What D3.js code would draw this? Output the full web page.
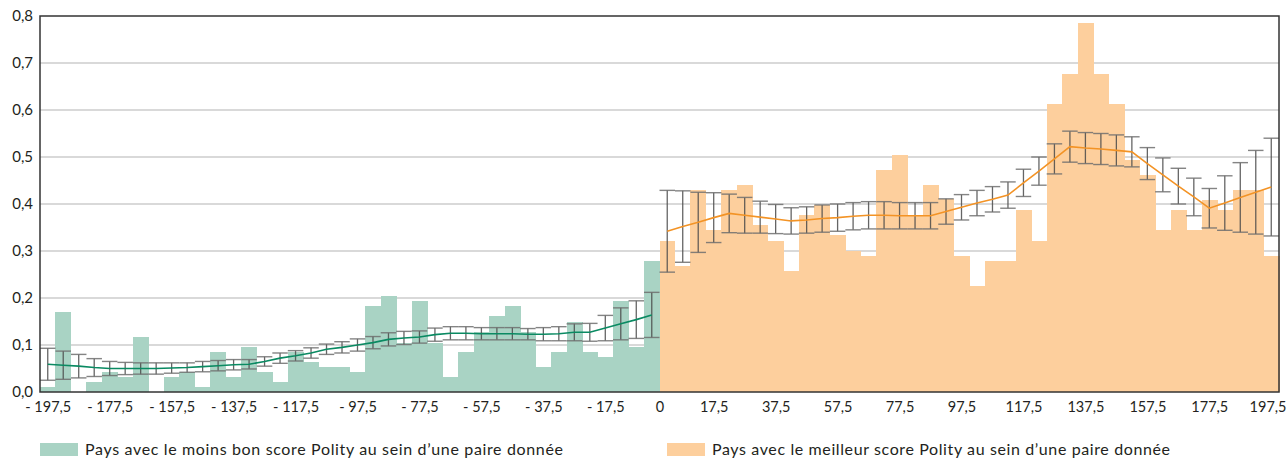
<!DOCTYPE html>
<html>
<head>
<meta charset="utf-8">
<script src="https://cdn.jsdelivr.net/npm/d3@7"></script>
<style>
  body { margin: 0; background: #fff; }
  text { font-family: Lato, "Open Sans", sans-serif; fill: #231f20; }
</style>
</head>
<body>
<svg id="chart" width="1288" height="458"></svg>
<script>
// Bin centres (width 5) on each side of zero
const binsLess = d3.range(-197.5, 0, 5);
const binsBetter = d3.range(2.5, 200, 5);

// Share of observations per bin
const lessShare = [0.010, 0.170, 0, 0.021, 0.043, 0.032, 0.117, 0, 0.032, 0.043,
  0.011, 0.085, 0.032, 0.096, 0.043, 0.021, 0.085, 0.064, 0.053, 0.053,
  0.043, 0.183, 0.204, 0.105, 0.194, 0.105, 0.032, 0.085, 0.128, 0.162,
  0.183, 0.128, 0.053, 0.085, 0.149, 0.085, 0.074, 0.194, 0.096, 0.279];
const betterShare = [0.322, 0.269, 0.430, 0.345, 0.430, 0.440, 0.355, 0.322, 0.257, 0.377,
  0.398, 0.334, 0.301, 0.290, 0.472, 0.504, 0.375, 0.440, 0.411, 0.290,
  0.226, 0.279, 0.279, 0.387, 0.322, 0.612, 0.677, 0.785, 0.677, 0.612,
  0.494, 0.462, 0.345, 0.387, 0.345, 0.409, 0.387, 0.430, 0.430, 0.290];

// Estimated curve and half-width of its confidence interval, per bin
const lessMean = [0.059, 0.057, 0.055, 0.052, 0.050, 0.050, 0.050, 0.050, 0.051, 0.052,
  0.054, 0.056, 0.058, 0.059, 0.065, 0.072, 0.077, 0.083, 0.091, 0.095,
  0.100, 0.105, 0.112, 0.115, 0.117, 0.122, 0.125, 0.125, 0.124, 0.124,
  0.124, 0.123, 0.123, 0.124, 0.127, 0.127, 0.136, 0.145, 0.154, 0.164];
const lessErr = [0.034, 0.030, 0.025, 0.019, 0.015, 0.013, 0.012, 0.012, 0.011, 0.010,
  0.011, 0.011, 0.011, 0.010, 0.010, 0.011, 0.011, 0.011, 0.011, 0.012,
  0.013, 0.013, 0.014, 0.014, 0.013, 0.014, 0.014, 0.014, 0.013, 0.013,
  0.013, 0.012, 0.014, 0.015, 0.018, 0.019, 0.027, 0.034, 0.040, 0.048];
const betterMean = [0.342, 0.352, 0.361, 0.371, 0.380, 0.376, 0.372, 0.368, 0.364, 0.366,
  0.369, 0.371, 0.374, 0.376, 0.376, 0.375, 0.375, 0.375, 0.384, 0.393,
  0.402, 0.410, 0.419, 0.445, 0.470, 0.496, 0.522, 0.519, 0.517, 0.514,
  0.511, 0.486, 0.462, 0.438, 0.415, 0.391, 0.402, 0.414, 0.425, 0.436];
const betterErr = [0.087, 0.076, 0.064, 0.053, 0.041, 0.038, 0.034, 0.031, 0.028, 0.028,
  0.029, 0.029, 0.029, 0.029, 0.029, 0.028, 0.028, 0.028, 0.027, 0.027,
  0.027, 0.027, 0.028, 0.029, 0.030, 0.032, 0.033, 0.033, 0.033, 0.033,
  0.032, 0.034, 0.036, 0.038, 0.040, 0.042, 0.058, 0.074, 0.089, 0.104];

// Axis ticks
const xTickValues = [-197.5, -177.5, -157.5, -137.5, -117.5, -97.5, -77.5, -57.5, -37.5, -17.5,
  0, 17.5, 37.5, 57.5, 77.5, 97.5, 117.5, 137.5, 157.5, 177.5, 197.5];
const xTickLabels = ["- 197,5", "- 177,5", "- 157,5", "- 137,5", "- 117,5", "- 97,5", "- 77,5",
  "- 57,5", "- 37,5", "- 17,5", "0", "17,5", "37,5", "57,5", "77,5", "97,5", "117,5",
  "137,5", "157,5", "177,5", "197,5"];
const yTickValues = [0, 0.1, 0.2, 0.3, 0.4, 0.5, 0.6, 0.7, 0.8];
const yTickLabels = ["0,0", "0,1", "0,2", "0,3", "0,4", "0,5", "0,6", "0,7", "0,8"];

const legendLabels = [
  "Pays avec le moins bon score Polity au sein d\u2019une paire donnée",
  "Pays avec le meilleur score Polity au sein d\u2019une paire donnée"
];

const colors = {
  less: "#a9d3c4", better: "#fdcf9d",
  lessLine: "#0a8a62", betterLine: "#f39325",
  grid: "#cdcdcd", frame: "#333333", err: "#4a4a4a", cap: "#6e6e6e"
};

const svg = d3.select("#chart");
const plotLeft = 40, plotRight = 1279, plotTop = 16, plotBottom = 392;

const x = d3.scaleLinear().domain([-200, 200]).range([plotLeft, plotRight]);
const y = d3.scaleLinear().domain([0, 0.8]).range([plotBottom, plotTop]);

// Grid lines (behind the bars)
svg.append("g").selectAll("line")
  .data(yTickValues.filter(v => v > 0 && v < 0.8))
  .join("line")
  .attr("x1", plotLeft).attr("x2", plotRight)
  .attr("y1", d => y(d)).attr("y2", d => y(d))
  .attr("stroke", colors.grid).attr("stroke-width", 1.5);

function drawBars(bins, values, fill) {
  svg.append("g").attr("shape-rendering", "crispEdges")
    .selectAll("rect")
    .data(bins.map((c, i) => ({ c, v: values[i] })))
    .join("rect")
    .attr("x", d => x(d.c - 2.5))
    .attr("width", d => x(d.c + 2.5) - x(d.c - 2.5) + 0.5)
    .attr("y", d => y(d.v))
    .attr("height", d => y(0) - y(d.v))
    .attr("fill", fill);
}
drawBars(binsLess, lessShare, colors.less);
drawBars(binsBetter, betterShare, colors.better);

function drawErrors(bins, mean, err) {
  const data = bins.map((c, i) => ({ c, lo: mean[i] - err[i], hi: mean[i] + err[i] }));
  const g = svg.append("g");
  const hw = (x(5) - x(0)) / 2;
  g.selectAll("line.v").data(data).join("line").attr("class", "v")
    .attr("x1", d => x(d.c)).attr("x2", d => x(d.c))
    .attr("y1", d => y(d.lo)).attr("y2", d => y(d.hi))
    .attr("stroke", colors.err).attr("stroke-width", 1.3).attr("stroke-opacity", 0.85);
  ["lo", "hi"].forEach(k => {
    g.selectAll("line.c" + k).data(data).join("line").attr("class", "c" + k)
      .attr("x1", d => x(d.c) - hw).attr("x2", d => x(d.c) + hw)
      .attr("y1", d => y(d[k])).attr("y2", d => y(d[k]))
      .attr("stroke", colors.cap).attr("stroke-width", 1.4).attr("stroke-opacity", 0.85);
  });
}
drawErrors(binsLess, lessMean, lessErr);
drawErrors(binsBetter, betterMean, betterErr);

function drawLine(bins, mean, color) {
  svg.append("path")
    .datum(bins.map((c, i) => [c, mean[i]]))
    .attr("fill", "none").attr("stroke", color).attr("stroke-width", 1.6)
    .attr("d", d3.line().x(d => x(d[0])).y(d => y(d[1])));
}
drawLine(binsLess, lessMean, colors.lessLine);
drawLine(binsBetter, betterMean, colors.betterLine);

// Plot frame
svg.append("rect")
  .attr("x", plotLeft).attr("y", plotTop)
  .attr("width", plotRight - plotLeft).attr("height", plotBottom - plotTop)
  .attr("fill", "none").attr("stroke", colors.frame).attr("stroke-width", 1.5);

// Axes
const yAxis = svg.append("g").attr("transform", `translate(${plotLeft},0)`)
  .call(d3.axisLeft(y).tickValues(yTickValues)
    .tickFormat((d, i) => yTickLabels[i]).tickSize(0).tickPadding(7));
yAxis.select(".domain").remove();
yAxis.selectAll("text").style("font-size", "15px");

const xAxis = svg.append("g").attr("transform", `translate(0,${plotBottom})`)
  .call(d3.axisBottom(x).tickValues(xTickValues)
    .tickFormat((d, i) => xTickLabels[i]).tickSize(0).tickPadding(10));
xAxis.select(".domain").remove();
xAxis.selectAll("text").style("font-size", "14.5px");
// keep the last label inside the page edge
xAxis.selectAll(".tick").filter(d => d === 197.5).select("text")
  .attr("text-anchor", "end").attr("x", 1286 - x(197.5));

// Legend
const legend = svg.append("g");
[[40, colors.less, 478], [667, colors.better, 458]].forEach(([lx, c, len], i) => {
  legend.append("rect").attr("x", lx).attr("y", 443).attr("width", 38).attr("height", 13).attr("fill", c);
  legend.append("text").attr("x", lx + 45).attr("y", 455)
    .attr("textLength", len).attr("lengthAdjust", "spacing")
    .style("font-size", "16px").text(legendLabels[i]);
});
</script>
</body>
</html>
